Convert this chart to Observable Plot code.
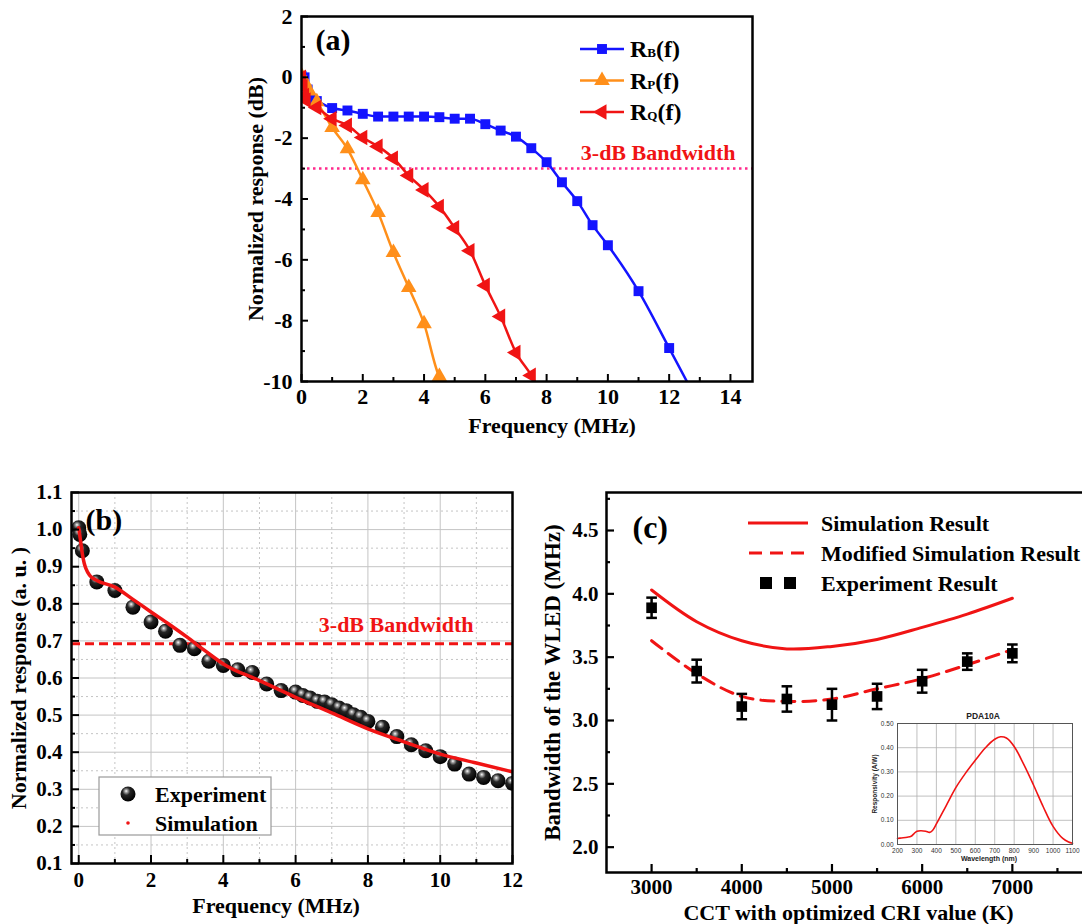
<!DOCTYPE html>
<html><head><meta charset="utf-8">
<script src="https://cdn.jsdelivr.net/npm/d3@7"></script>
<script src="https://cdn.jsdelivr.net/npm/@observablehq/plot@0.6"></script>
<style>
body{margin:0;background:#fff;}
#wrap{position:relative;width:1082px;height:924px;overflow:hidden;background:#fff;}
#wrap svg{position:absolute;overflow:visible;}
#wrap svg.mainplot text{font-weight:bold;}
</style></head><body><div id="wrap"></div>
<script>
// ---------------- Panel (a) data ----------------
const aFreqB = [0, 0.1, 0.2, 0.3, 0.5, 1, 1.5, 2, 2.5, 3, 3.5, 4, 4.5, 5, 5.5, 6, 6.5, 7, 7.5, 8, 8.5, 9, 9.5, 10, 11, 12, 13];
const aRespB = [0.05, 0, -0.4, -0.7, -0.78, -1.01, -1.09, -1.2, -1.29, -1.29, -1.29, -1.29, -1.31, -1.36, -1.36, -1.54, -1.75, -1.95, -2.33, -2.79, -3.45, -4.07, -4.86, -5.52, -7.03, -8.9, -10.8];
const aFreqP = [0, 0.1, 0.25, 0.5, 1, 1.5, 2, 2.5, 3, 3.5, 4, 4.5, 5];
const aRespP = [0.05, -0.15, -0.45, -0.8, -1.65, -2.35, -3.37, -4.44, -5.76, -6.91, -8.1, -9.84, -10.3];
const aFreqQ = [0, 0.05, 0.1, 0.15, 0.5, 1, 1.5, 2, 2.5, 3, 3.5, 4, 4.5, 5, 5.5, 6, 6.5, 7, 7.5, 8];
const aRespQ = [0, -0.3, -0.6, -0.75, -0.99, -1.36, -1.58, -1.98, -2.27, -2.66, -3.23, -3.7, -4.25, -4.95, -5.7, -6.84, -7.86, -9.05, -9.8, -10.8];
const aBandwidth = [-3];
const aXTicks = [0, 2, 4, 6, 8, 10, 12, 14];
const aXMinor = [1, 3, 5, 7, 9, 11, 13];
const aYTicks = [-10, -8, -6, -4, -2, 0, 2];
const aYMinor = [-9, -7, -5, -3, -1, 1];
const aLegendSubs = ["B", "P", "Q"];

// ---------------- Panel (b) data ----------------
const bFreqExp = [0, 0.03, 0.1, 0.5, 1, 1.5, 2, 2.4, 2.8, 3.2, 3.6, 4, 4.4, 4.8, 5.2, 5.6, 6, 6.2, 6.4, 6.6, 6.8, 7, 7.2, 7.4, 7.6, 7.8, 8, 8.4, 8.8, 9.2, 9.6, 10, 10.4, 10.8, 11.2, 11.6, 12];
const bRespExp = [1.005, 0.987, 0.943, 0.859, 0.836, 0.791, 0.751, 0.726, 0.688, 0.679, 0.645, 0.634, 0.622, 0.615, 0.584, 0.566, 0.562, 0.553, 0.546, 0.537, 0.535, 0.528, 0.519, 0.512, 0.501, 0.494, 0.483, 0.467, 0.442, 0.420, 0.404, 0.388, 0.368, 0.341, 0.332, 0.323, 0.316];
const bFreqSim = [0, 0.05, 0.1, 0.15, 0.2, 0.3, 0.5, 1, 1.5, 2, 2.5, 3, 3.5, 4, 5, 6, 7, 8, 9, 10, 11, 12];
const bRespSim = [1.005, 0.97, 0.935, 0.91, 0.895, 0.877, 0.863, 0.845, 0.812, 0.778, 0.745, 0.71, 0.673, 0.638, 0.593, 0.548, 0.506, 0.463, 0.428, 0.395, 0.371, 0.347];
const bBandwidth = [0.692];
const bXTicks = [0, 2, 4, 6, 8, 10, 12];
const bXMinor = [1, 3, 5, 7, 9, 11];
const bYTicks = [0.1, 0.2, 0.3, 0.4, 0.5, 0.6, 0.7, 0.8, 0.9, 1.0, 1.1];
const bYMinor = [0.15, 0.25, 0.35, 0.45, 0.55, 0.65, 0.75, 0.85, 0.95, 1.05];
const bLegend = ["Experiment", "Simulation"];

// ---------------- Panel (c) data ----------------
const cCCT = [3000, 3500, 4000, 4500, 5000, 5500, 6000, 6500, 7000];
const cSim = [4.03, 3.78, 3.63, 3.565, 3.585, 3.64, 3.735, 3.84, 3.965];
const cMod = [3.63, 3.37, 3.19, 3.15, 3.17, 3.25, 3.33, 3.44, 3.56];
const cExp = [3.89, 3.39, 3.11, 3.17, 3.125, 3.19, 3.31, 3.465, 3.53];
const cErr = [0.08, 0.09, 0.1, 0.1, 0.125, 0.1, 0.09, 0.065, 0.07];
const cXTicks = [3000, 4000, 5000, 6000, 7000];
const cXMinor = [3500, 4500, 5500, 6500, 7500];
const cYTicks = [2.0, 2.5, 3.0, 3.5, 4.0, 4.5];
const cYMinor = [2.25, 2.75, 3.25, 3.75, 4.25, 4.75];
const cLegend = ["Simulation Result", "Modified Simulation Result", "Experiment Result"];

// ---------------- Inset data ----------------
const insWave = [200, 220, 250, 270, 285, 300, 320, 345, 365, 380, 400, 450, 500, 550, 600, 650, 700, 730, 760, 800, 850, 900, 950, 1000, 1050, 1080, 1100];
const insResp = [0.025, 0.027, 0.03, 0.034, 0.045, 0.055, 0.057, 0.055, 0.05, 0.058, 0.085, 0.16, 0.235, 0.295, 0.348, 0.398, 0.435, 0.445, 0.44, 0.405, 0.33, 0.245, 0.155, 0.075, 0.025, 0.01, 0.005];
const insXTicks = [200, 300, 400, 500, 600, 700, 800, 900, 1000, 1100];
const insYTicks = [0, 0.1, 0.2, 0.3, 0.4, 0.5];

// ---------------- helpers ----------------
const SERIF = "'Liberation Serif','Times New Roman',serif";
const BLUE = "#1414ff", ORANGE = "#ff8f1a", RED = "#f01414", PINK = "#ff2a8c";
const wrap = document.getElementById("wrap");
function place(svg, left, top, main) {
  svg.style.left = left + "px"; svg.style.top = top + "px";
  svg.style.maxWidth = "none"; svg.style.background = "transparent";
  if (main) svg.classList.add("mainplot");
  wrap.appendChild(svg); return svg;
}
function inwardTicks(xMaj, xMin, yMaj, yMin, fw, fh, maj, min, sw) {
  return [
    Plot.tickX(xMaj, {x: d => d, insetTop: fh - maj, stroke: "#000", strokeWidth: sw}),
    Plot.tickX(xMin, {x: d => d, insetTop: fh - min, stroke: "#000", strokeWidth: sw}),
    Plot.tickY(yMaj, {y: d => d, insetRight: fw - maj, stroke: "#000", strokeWidth: sw}),
    Plot.tickY(yMin, {y: d => d, insetRight: fw - min, stroke: "#000", strokeWidth: sw})
  ];
}
const baseStyle = (fs) => ({fontFamily: SERIF, fontWeight: "bold", fontSize: fs + "px", color: "#000", background: "transparent", overflow: "visible"});
const rowsOf = (xs, ys) => xs.map((x, i) => ({x, y: ys[i]}));
// axis titles / panel tags (text marks anchored to the frame)
const xTitle = (t, dx, dy, fs) => Plot.text([t], {text: d => d, frameAnchor: "bottom", dx, dy, textAnchor: "middle", lineAnchor: "middle", fontSize: fs, fontWeight: "bold"});
const yTitle = (t, shiftLeft, fs) => Plot.text([t], {text: d => d, frameAnchor: "left", rotate: -90, dx: -shiftLeft, textAnchor: "middle", lineAnchor: "middle", fontSize: fs, fontWeight: "bold"});
const tag = (t, dx, dy, fs) => Plot.text([t], {text: d => d, frameAnchor: "top-left", dx, dy, textAnchor: "start", lineAnchor: "middle", fontSize: fs, fontWeight: "bold"});

// ================= Panel (a) =================
const aW = 580, aH = 440, aML = 101, aMR = 28, aMT = 16, aMB = 59;
const aFW = aW - aML - aMR, aFH = aH - aMT - aMB;
const rB = rowsOf(aFreqB, aRespB), rP = rowsOf(aFreqP, aRespP), rQ = rowsOf(aFreqQ, aRespQ);
const svgA = Plot.plot({
  width: aW, height: aH, marginLeft: aML, marginRight: aMR, marginTop: aMT, marginBottom: aMB,
  style: baseStyle(22),
  x: {domain: [0, 14.72], ticks: aXTicks, tickSize: 0, tickPadding: 7, tickFormat: d => String(d), label: null},
  y: {domain: [-10, 2], ticks: aYTicks, tickSize: 0, tickPadding: 9, tickFormat: d => String(d), label: null},
  marks: [
    Plot.ruleY(aBandwidth, {y: d => d, stroke: PINK, strokeWidth: 2.5, strokeDasharray: "2.5,3.5"}),
    Plot.line(rB, {x: "x", y: "y", stroke: BLUE, strokeWidth: 2.5, curve: "monotone-x", clip: true}),
    Plot.line(rP, {x: "x", y: "y", stroke: ORANGE, strokeWidth: 2.5, curve: "monotone-x", clip: true}),
    Plot.line(rQ, {x: "x", y: "y", stroke: RED, strokeWidth: 2.5, curve: "monotone-x", clip: true}),
    Plot.dot(rB, {x: "x", y: "y", symbol: "square", r: 5.6, fill: BLUE, clip: true}),
    Plot.dot(rP, {x: "x", y: "y", symbol: "triangle", r: 5.8, fill: ORANGE, clip: true}),
    Plot.dot(rQ, {x: "x", y: "y", symbol: "triangle", rotate: -90, r: 5.8, fill: RED, clip: true}),
    Plot.frame({stroke: "#000", strokeWidth: 2.5}),
    ...inwardTicks(aXTicks, aXMinor, aYTicks, aYMinor, aFW, aFH, 7, 4, 2),
    tag("(a)", 14, 24, 30),
    Plot.text(["3-dB Bandwidth"], {text: d => d, y: () => aBandwidth[0], frameAnchor: "right", dx: -17, dy: -16, textAnchor: "end", lineAnchor: "middle", fill: RED, fontSize: 22, fontWeight: "bold"}),
    xTitle("Frequency (MHz)", 25, 44, 22),
    yTitle("Normalized response (dB)", 46, 22)
  ]
});
place(svgA, 200, 0, true);
{
  const g = d3.select(svgA).append("g");
  const cols = [BLUE, ORANGE, RED];
  const syms = [d3.symbolSquare, d3.symbolTriangle, d3.symbolTriangle];
  const sizes = [Math.PI * 5.6 * 5.6, Math.PI * 5.8 * 5.8, Math.PI * 5.8 * 5.8];
  const rots = [0, 0, -90];
  aLegendSubs.forEach((s, i) => {
    const y = 49 + i * 31.5;
    g.append("line").attr("x1", 380).attr("x2", 424).attr("y1", y).attr("y2", y).attr("stroke", cols[i]).attr("stroke-width", 2.5);
    g.append("path").attr("d", d3.symbol(syms[i], sizes[i])()).attr("fill", cols[i])
      .attr("transform", `translate(402,${y}) rotate(${rots[i]})`);
    const t = g.append("text").attr("x", 430).attr("y", y + 8).attr("text-anchor", "start").attr("font-family", SERIF).attr("font-weight", "bold").attr("font-size", 24);
    t.append("tspan").text("R");
    t.append("tspan").attr("font-size", 13).text(s);
    t.append("tspan").text("(f)");
  });
}

// ================= Panel (b) =================
const bW = 540, bH = 454, bML = 71, bMR = 28, bMT = 22, bMB = 61;
const bFW = bW - bML - bMR, bFH = bH - bMT - bMB;
const rExp = rowsOf(bFreqExp, bRespExp), rSim = rowsOf(bFreqSim, bRespSim);
const GRID = "#c4c4c4";
const svgB = Plot.plot({
  width: bW, height: bH, marginLeft: bML, marginRight: bMR, marginTop: bMT, marginBottom: bMB,
  style: baseStyle(21),
  x: {domain: [-0.2, 12], ticks: bXTicks, tickSize: 0, tickPadding: 9, tickFormat: d => String(d), label: null},
  y: {domain: [0.1, 1.1], ticks: bYTicks, tickSize: 0, tickPadding: 9, tickFormat: d3.format(".1f"), label: null},
  marks: [
    Plot.gridX(bXTicks, {stroke: GRID, strokeOpacity: 1, strokeWidth: 1}),
    Plot.gridX(bXMinor, {stroke: GRID, strokeOpacity: 1, strokeWidth: 1, strokeDasharray: "2,3"}),
    Plot.gridY(bYTicks, {stroke: GRID, strokeOpacity: 1, strokeWidth: 1}),
    Plot.gridY(bYMinor, {stroke: GRID, strokeOpacity: 1, strokeWidth: 1, strokeDasharray: "2,3"}),
    Plot.ruleY(bBandwidth, {y: d => d, stroke: RED, strokeWidth: 3, strokeDasharray: "9,5"}),
    Plot.dot(rExp, {x: "x", y: "y", r: 7.5, fill: "url(#sphereGrad)", clip: true}),
    Plot.line(rSim, {x: "x", y: "y", stroke: RED, strokeWidth: 3.5, curve: "monotone-x", clip: true}),
    Plot.frame({stroke: "#000", strokeWidth: 2.5}),
    ...inwardTicks(bXTicks, bXMinor, bYTicks, bYMinor, bFW, bFH, 8, 4, 2),
    tag("(b)", 14, 28, 30),
    Plot.text(["3-dB Bandwidth"], {text: d => d, y: () => bBandwidth[0], frameAnchor: "right", dx: -39, dy: -19, textAnchor: "end", lineAnchor: "middle", fill: RED, fontSize: 22, fontWeight: "bold"}),
    xTitle("Frequency (MHz)", -16, 42, 22),
    yTitle("Normalized response (a. u. )", 53, 22)
  ]
});
place(svgB, 0, 470, true);
{
  const s = d3.select(svgB);
  const defs = s.insert("defs", ":first-child");
  const gr = defs.append("radialGradient").attr("id", "sphereGrad").attr("cx", "0.4").attr("cy", "0.35").attr("r", "0.65").attr("fx", "0.38").attr("fy", "0.3");
  gr.append("stop").attr("offset", "0").attr("stop-color", "#ffffff");
  gr.append("stop").attr("offset", "0.14").attr("stop-color", "#a8a8a8");
  gr.append("stop").attr("offset", "0.4").attr("stop-color", "#262626");
  gr.append("stop").attr("offset", "1").attr("stop-color", "#000000");
  const g = s.append("g");
  g.append("rect").attr("x", 99).attr("y", 307).attr("width", 172).attr("height", 58).attr("fill", "#fff").attr("stroke", "#9a9a9a").attr("stroke-width", 1.2);
  g.append("circle").attr("cx", 128).attr("cy", 324).attr("r", 7.5).attr("fill", "url(#sphereGrad)");
  g.append("circle").attr("cx", 128).attr("cy", 353).attr("r", 1.8).attr("fill", RED);
  bLegend.forEach((t, i) => {
    g.append("text").attr("x", 155).attr("y", 324 + i * 29).attr("dy", "0.35em").attr("text-anchor", "start").attr("font-family", SERIF).attr("font-weight", "bold").attr("font-size", 22).text(t);
  });
}

// ================= Panel (c) =================
const cW = 560, cH = 454, cML = 66, cMR = 16, cMT = 22, cMB = 52;
const cFW = cW - cML - cMR, cFH = cH - cMT - cMB;
const rC = cCCT.map((x, i) => ({x, sim: cSim[i], mod: cMod[i], exp: cExp[i], lo: cExp[i] - cErr[i], hi: cExp[i] + cErr[i]}));
const capSymbol = {draw(ctx, size) { const w = Math.sqrt(size) / 2; ctx.moveTo(-w, 0); ctx.lineTo(w, 0); }};
const svgC = Plot.plot({
  width: cW, height: cH, marginLeft: cML, marginRight: cMR, marginTop: cMT, marginBottom: cMB,
  style: baseStyle(21),
  x: {domain: [2500, 7800], ticks: cXTicks, tickSize: 0, tickPadding: 7, tickFormat: d => String(d), label: null},
  y: {domain: [1.8, 4.8], ticks: cYTicks, tickSize: 0, tickPadding: 8, tickFormat: d3.format(".1f"), label: null},
  marks: [
    Plot.line(rC, {x: "x", y: "sim", stroke: RED, strokeWidth: 3, curve: "catmull-rom"}),
    Plot.line(rC, {x: "x", y: "mod", stroke: RED, strokeWidth: 3, strokeDasharray: "13,8", curve: "catmull-rom"}),
    Plot.ruleX(rC, {x: "x", y1: "lo", y2: "hi", stroke: "#000", strokeWidth: 2.5}),
    Plot.dot(rC, {x: "x", y: "lo", symbol: capSymbol, r: 6, stroke: "#000", fill: "none", strokeWidth: 2.5}),
    Plot.dot(rC, {x: "x", y: "hi", symbol: capSymbol, r: 6, stroke: "#000", fill: "none", strokeWidth: 2.5}),
    Plot.dot(rC, {x: "x", y: "exp", symbol: "square", r: 6, fill: "#000"}),
    Plot.frame({stroke: "#000", strokeWidth: 2.5}),
    ...inwardTicks(cXTicks, cXMinor, cYTicks, cYMinor, cFW, cFH, 8, 4, 2.2),
    tag("(c)", 26, 35, 32),
    xTitle("CCT with optimized CRI value (K)", 3, 40, 22),
    yTitle("Bandwidth of the WLED (MHz)", 54, 23)
  ]
});
place(svgC, 540, 470, true);
{
  const g = d3.select(svgC).append("g");
  const ys = [53, 83, 113];
  g.append("line").attr("x1", 208).attr("x2", 268).attr("y1", ys[0]).attr("y2", ys[0]).attr("stroke", RED).attr("stroke-width", 3);
  g.append("line").attr("x1", 208).attr("x2", 268).attr("y1", ys[1]).attr("y2", ys[1]).attr("stroke", RED).attr("stroke-width", 3).attr("stroke-dasharray", "13,8").attr("stroke-dashoffset", "-1");
  [226, 250].forEach(x => g.append("rect").attr("x", x - 6).attr("y", ys[2] - 6).attr("width", 12).attr("height", 12).attr("fill", "#000"));
  cLegend.forEach((t, i) => {
    g.append("text").attr("x", 281).attr("y", ys[i]).attr("dy", "0.35em").attr("text-anchor", "start").attr("font-family", SERIF).attr("font-weight", "bold").attr("font-size", 22).text(t);
  });
}

// ================= Inset =================
const SANS = "'Liberation Sans',Arial,sans-serif";
const rIns = rowsOf(insWave, insResp);
const iW = 222, iH = 175, iML = 37, iMR = 10, iMT = 28, iMB = 26;
const svgI = Plot.plot({
  width: iW, height: iH, marginLeft: iML, marginRight: iMR, marginTop: iMT, marginBottom: iMB,
  style: {fontFamily: SANS, fontSize: "6.5px", color: "#333", background: "transparent", overflow: "visible"},
  x: {domain: [200, 1100], ticks: insXTicks, tickSize: 0, tickPadding: 4, tickFormat: d => String(d), label: null},
  y: {domain: [0, 0.5], ticks: insYTicks, tickSize: 0, tickPadding: 4, tickFormat: d3.format(".2f"), label: null},
  marks: [
    Plot.frame({fill: "#fff"}),
    Plot.gridX(insXTicks, {stroke: "#b0b0b0", strokeOpacity: 1, strokeWidth: 0.8}),
    Plot.gridY(insYTicks, {stroke: "#b0b0b0", strokeOpacity: 1, strokeWidth: 0.8}),
    Plot.line(rIns, {x: "x", y: "y", stroke: RED, strokeWidth: 1.6, curve: "catmull-rom"}),
    Plot.frame({stroke: "#555", strokeWidth: 1}),
    Plot.text(["PDA10A"], {text: d => d, frameAnchor: "top", dx: -2, dy: -7, lineAnchor: "middle", fontSize: 8.5, fontWeight: "bold", fill: "#222"}),
    Plot.text(["Wavelength (nm)"], {text: d => d, frameAnchor: "bottom", dx: 4, dy: 14, lineAnchor: "middle", fontSize: 7, fontWeight: "bold", fill: "#222"}),
    Plot.text(["Responsivity (A/W)"], {text: d => d, frameAnchor: "left", rotate: -90, dx: -23, textAnchor: "middle", lineAnchor: "middle", fontSize: 6.5, fontWeight: "bold", fill: "#222"})
  ]
});
place(svgI, 860, 695, false);
</script></body></html>
